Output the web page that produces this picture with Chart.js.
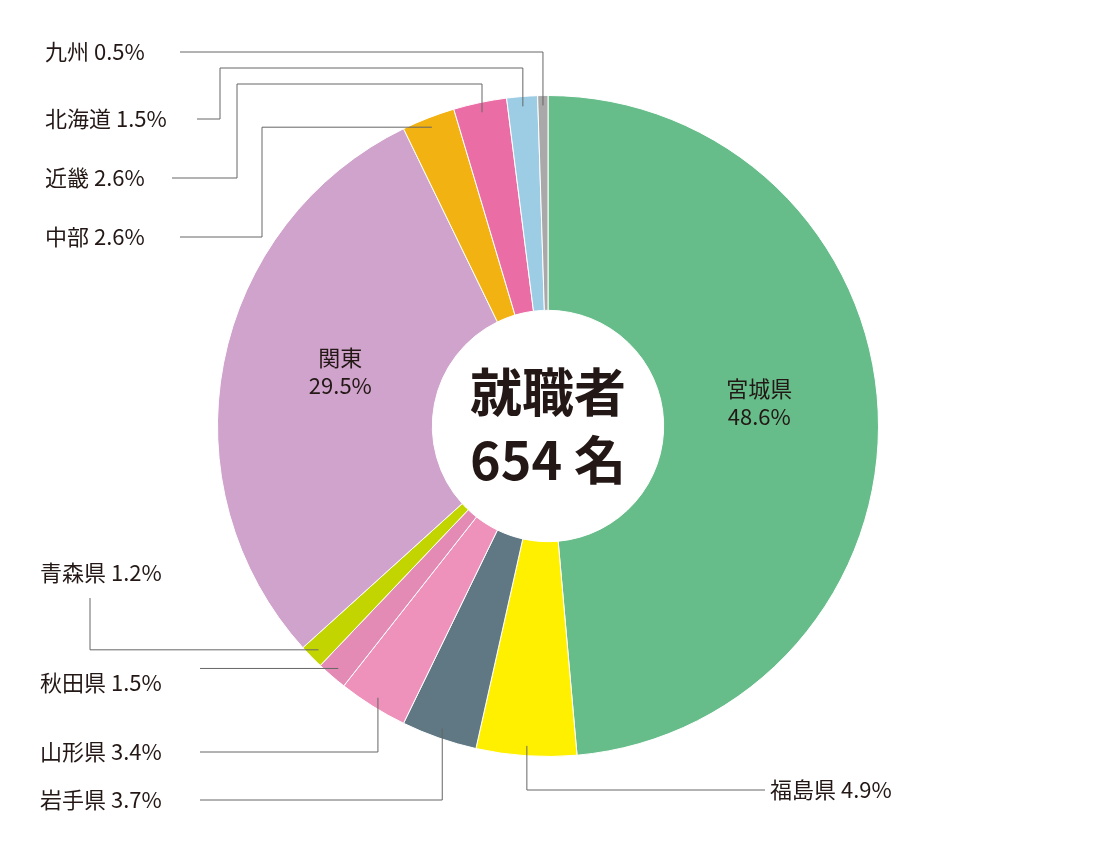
<!DOCTYPE html>
<html><head><meta charset="utf-8">
<script src="https://cdn.jsdelivr.net/npm/chart.js@4"></script>
<style>html,body{margin:0;padding:0;background:#fff}#w{width:1100px;height:850px}</style>
</head><body><div id="w"><canvas id="c"></canvas></div>
<script>
const categories = ['宮城県','福島県','岩手県','山形県','秋田県','青森県','関東','中部','近畿','北海道','九州'];
const values = [48.6,4.9,3.7,3.4,1.5,1.2,29.5,2.6,2.6,1.5,0.5];
const colors = ['#66bd8a','#fff000','#5f7883','#ee92bb','#e38bb5','#c3d500','#cfa3cb','#f2b211','#ea6ea5','#9dcde4','#a9a9a9'];
const centerLines = ['就職者','654 名'];
// leader routes (layout): label position + path segments from arc anchor
const outside = {
  '九州':  {tx:45, ty:52, align:'left', route:[['v',52],['h',180]]},
  '北海道':{tx:45, ty:119,align:'left', route:[['v',68],['h',220],['v',119],['h',197]]},
  '近畿':  {tx:45, ty:178,align:'left', route:[['v',84],['h',237],['v',178],['h',172]]},
  '中部':  {tx:45, ty:237,align:'left', route:[['h',262],['v',237],['h',180]]},
  '青森県':{tx:40, ty:573,align:'left', route:[['h',90],['v',598]]},
  '秋田県':{tx:40, ty:683,align:'left', route:[['h',200]]},
  '山形県':{tx:40, ty:752,align:'left', route:[['v',752],['h',200]]},
  '岩手県':{tx:40, ty:800,align:'left', route:[['v',800],['h',200]]},
  '福島県':{tx:770,ty:790,align:'left', route:[['v',790],['h',765]]}
};
const FONT = '"Noto Sans CJK JP","Noto Sans",sans-serif';
const labelPlugin = {
  id:'labels',
  afterDraw(chart){
    const ctx = chart.ctx, meta = chart.getDatasetMeta(0);
    ctx.save();
    meta.data.forEach((arc,i)=>{
      const name = categories[i], v = values[i];
      const mid = (arc.startAngle+arc.endAngle)/2;
      const o = outside[name];
      ctx.fillStyle='#231815';
      if(!o){
        const r = arc.outerRadius*0.64;
        const x = arc.x+Math.cos(mid)*r, y = arc.y+Math.sin(mid)*r;
        ctx.font='22px '+FONT; ctx.textAlign='center'; ctx.textBaseline='middle';
        ctx.fillText(name,x,y-28); ctx.fillText(v.toFixed(1)+'%',x,y);
        return;
      }
      const r = arc.outerRadius*0.97;
      let x = arc.x+Math.cos(mid)*r, y = arc.y+Math.sin(mid)*r;
      ctx.strokeStyle='#666'; ctx.lineWidth=1;
      ctx.beginPath(); ctx.moveTo(x,y);
      o.route.forEach(s=>{ if(s[0]==='v') y=s[1]; else x=s[1]; ctx.lineTo(x,y); });
      ctx.stroke();
      ctx.font='22px '+FONT; ctx.textAlign=o.align; ctx.textBaseline='middle';
      ctx.fillText(name+' '+v.toFixed(1)+'%',o.tx,o.ty);
    });
    const a = meta.data[0];
    ctx.textAlign='center'; ctx.textBaseline='middle';
    ctx.font='bold 52px '+FONT;
    ctx.fillText(centerLines[0],a.x,a.y-34);
    ctx.fillText(centerLines[1],a.x,a.y+34);
    ctx.restore();
  }
};
new Chart(document.getElementById('c'),{
  type:'doughnut',
  data:{labels:categories,datasets:[{data:values,backgroundColor:colors,borderColor:'#fff',borderWidth:1}]},
  options:{responsive:true,maintainAspectRatio:false,animation:false,cutout:'35%',
    layout:{padding:{left:217,right:221,top:95,bottom:93}},
    plugins:{legend:{display:false},tooltip:{enabled:false}}},
  plugins:[labelPlugin]
});
</script></body></html>
